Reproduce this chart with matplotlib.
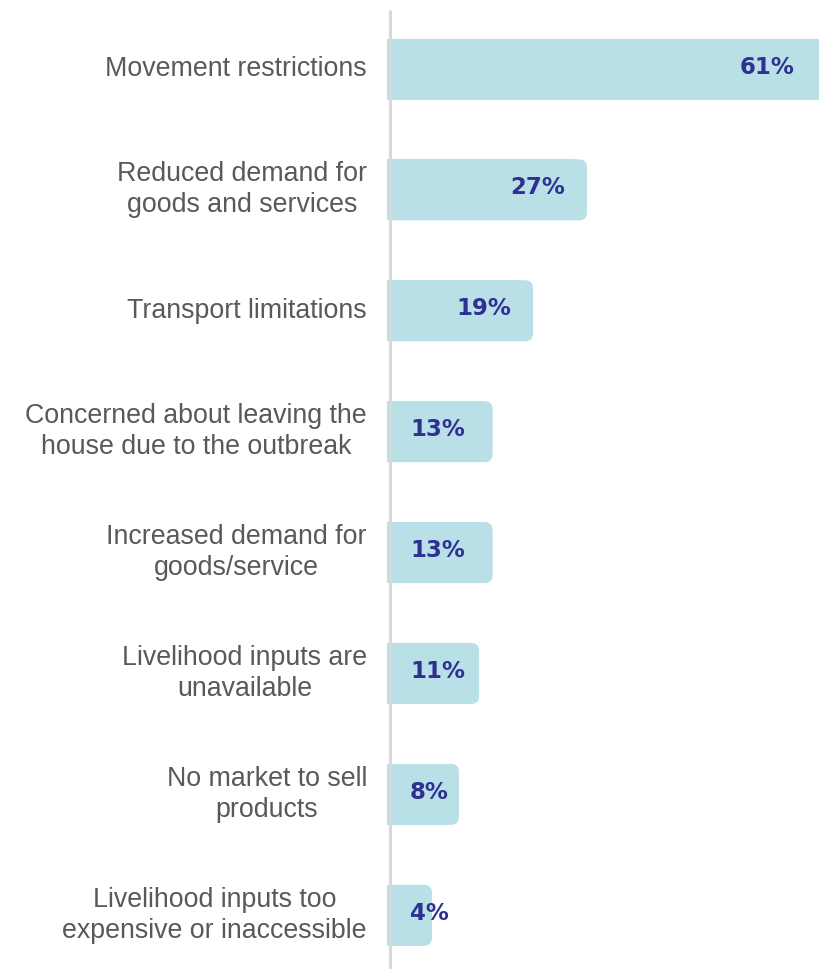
import matplotlib
matplotlib.use("Agg")
import matplotlib.pyplot as plt
from matplotlib.patches import FancyBboxPatch, Rectangle

categories = [
    "Movement restrictions",
    "Reduced demand for\ngoods and services",
    "Transport limitations",
    "Concerned about leaving the\nhouse due to the outbreak",
    "Increased demand for\ngoods/service",
    "Livelihood inputs are\nunavailable",
    "No market to sell\nproducts",
    "Livelihood inputs too\nexpensive or inaccessible",
]
values = [61, 27, 19, 13, 13, 11, 8, 4]
value_labels = ["61%", "27%", "19%", "13%", "13%", "11%", "8%", "4%"]

BAR_COLOR = "#b9dfe7"
VAL_COLOR = "#2e3192"
TXT_COLOR = "#595959"
AXIS_COLOR = "#d9d9d9"

W, H = 819, 969
DPI = 100
fig = plt.figure(figsize=(W / DPI, H / DPI), dpi=DPI)
ax = fig.add_axes([0, 0, 1, 1])
ax.set_axis_off()

pxu = 6.74          # pixels per percentage unit
x0 = 387            # pixel where bars start
row = 120.9         # pixels between rows
y0 = 69             # pixel of first row centre
xmax = (W - x0) / pxu
ax.set_xlim(-x0 / pxu, xmax)
ax.set_ylim((H - y0) / row, -y0 / row)

pad = 18 / pxu      # extra length of rounded bar end
bar_h = 61 / row
rx = 8 / pxu
ry = 8 / row

for i, v in enumerate(values):
    w = v + pad
    if w > xmax - 1.0:
        # bar runs off the right edge: square, clipped end
        ax.add_patch(Rectangle((0, i - bar_h / 2), xmax + 1, bar_h,
                               facecolor=BAR_COLOR, edgecolor="none", zorder=2))
    else:
        ax.add_patch(Rectangle((0, i - bar_h / 2), w - rx * 1.5, bar_h,
                               facecolor=BAR_COLOR, edgecolor="none", zorder=2))
        ax.add_patch(FancyBboxPatch((0, i - bar_h / 2), w, bar_h,
                                    boxstyle=f"round,pad=0,rounding_size={rx}",
                                    mutation_aspect=ry / rx,
                                    facecolor=BAR_COLOR, edgecolor="none", zorder=2))
    # value label
    if v <= 13:
        ax.text(23 / pxu, i - 2 / row, value_labels[i], ha="left", va="center",
                color=VAL_COLOR, fontsize=16.5, fontweight="bold",
                family="DejaVu Sans", zorder=4)
    else:
        ax.text(min(w, xmax) - 22 / pxu, i - 2 / row, value_labels[i],
                ha="right", va="center",
                color=VAL_COLOR, fontsize=16.5, fontweight="bold",
                family="DejaVu Sans", zorder=4)
    # category label
    ax.text(-20 / pxu, i, categories[i], ha="right", va="center",
            multialignment="center", color=TXT_COLOR, fontsize=19.3,
            family="Liberation Sans", linespacing=1.26, zorder=4)

# vertical axis line
ax.plot([3 / pxu, 3 / pxu], [-(y0 - 10) / row, (H - y0) / row],
        color=AXIS_COLOR, lw=2.2, zorder=3, solid_capstyle="butt")

fig.savefig("out.png", dpi=DPI)
